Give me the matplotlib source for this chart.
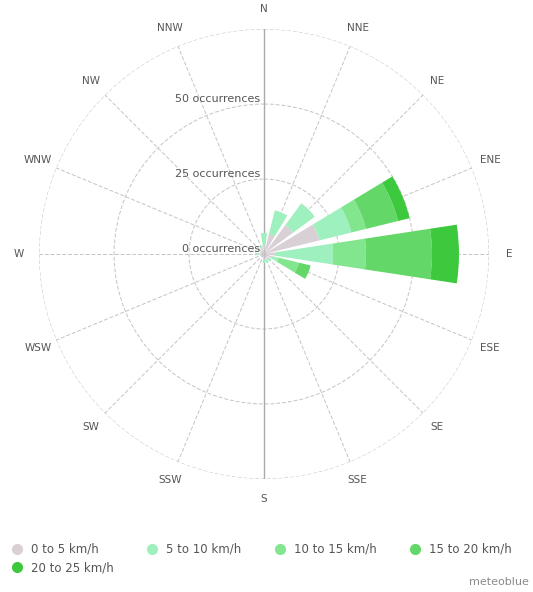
import numpy as np
import matplotlib
matplotlib.use("Agg")
import matplotlib.pyplot as plt
from matplotlib.lines import Line2D

# wind rose data (occurrences per speed class and direction)
directions = ["N", "NNE", "NE", "ENE", "E", "ESE", "SE", "SSE",
              "S", "SSW", "SW", "WSW", "W", "WNW", "NW", "NNW"]
speed_labels = ["0 to 5 km/h", "5 to 10 km/h", "10 to 15 km/h",
                "15 to 20 km/h", "20 to 25 km/h"]
speed_colors = ["#d9d0d6", "#9ef0bf", "#82e68e", "#63d768", "#3dc93d"]

s0_5 = [3, 7, 12, 19, 4, 3, 2, 2, 2, 1, 1, 1, 2, 1, 2, 2]
s5_10 = [4, 8, 9, 11, 19, 2, 1, 1, 1, 0, 0, 0, 1, 0, 0, 1]
s10_15 = [0, 0, 0, 5, 11, 7, 0, 0, 0, 0, 0, 0, 0, 0, 0, 0]
s15_20 = [0, 0, 0, 11, 22, 4, 0, 0, 0, 0, 0, 0, 0, 0, 0, 0]
s20_25 = [0, 0, 0, 4, 9, 0, 0, 0, 0, 0, 0, 0, 0, 0, 0, 0]
series = [s0_5, s5_10, s10_15, s15_20, s20_25]

rings = [0, 25, 50]
rmax = 75

text_col = "#555555"

fig = plt.figure(figsize=(5.33, 5.92), dpi=100)
ax = fig.add_axes([0.0732, 0.1909, 0.8443, 0.760], projection="polar")
ax.set_theta_zero_location("N")
ax.set_theta_direction(-1)
ax.set_ylim(0, rmax)

angles = np.deg2rad(np.arange(len(directions)) * 360 / len(directions))
width = 2 * np.pi / len(directions) * 0.77

bottom = np.zeros(len(directions))
for vals, col, lab in zip(series, speed_colors, speed_labels):
    vals = np.array(vals, dtype=float)
    ax.bar(angles, vals, width=width, bottom=bottom, color=col,
           edgecolor="none", label=lab, zorder=3)
    bottom += vals

# grid
ax.set_xticks(angles)
ax.set_xticklabels([])
ax.set_yticks([25, 50, 75])
ax.set_yticklabels([])
ax.grid(True, color="#c4c4c4", lw=0.7, linestyle=(0, (4, 2)), zorder=0)
ax.spines["polar"].set_visible(False)
ax.set_axisbelow(True)
ax.plot([0, 0], [0, rmax], color="#aaaaaa", lw=1.0, zorder=1)
ax.plot([np.pi, np.pi], [0, rmax], color="#aaaaaa", lw=1.0, zorder=1)

for a, d in zip(angles, directions):
    ax.text(a, rmax * 1.088, d, ha="center", va="center", fontsize=7.5,
            color=text_col, clip_on=False)

for r in rings:
    ax.annotate(f"{r} occurrences", xy=(0, r), xytext=(-3, 0),
                textcoords="offset points", ha="right", va="bottom",
                fontsize=8, color=text_col, zorder=4)

# legend filled row by row (matplotlib fills columns first)
order = [0, 4, 1, 2, 3]
handles = [Line2D([], [], marker="o", linestyle="none", markersize=8,
                  markerfacecolor=c, markeredgecolor="none") for c in speed_colors]
fig.legend([handles[i] for i in order], [speed_labels[i] for i in order],
           ncol=4, loc="upper left",
           bbox_to_anchor=(0.012, 0.093), frameon=False, fontsize=8.5,
           handlelength=0.8, handletextpad=0.75, columnspacing=2.9,
           labelspacing=0.45, borderpad=0, labelcolor=text_col)

fig.text(0.993, 0.008, "meteoblue", ha="right", va="bottom", fontsize=8,
         color="#8a8a8a")

fig.savefig("out.png", dpi=100, facecolor="white")
